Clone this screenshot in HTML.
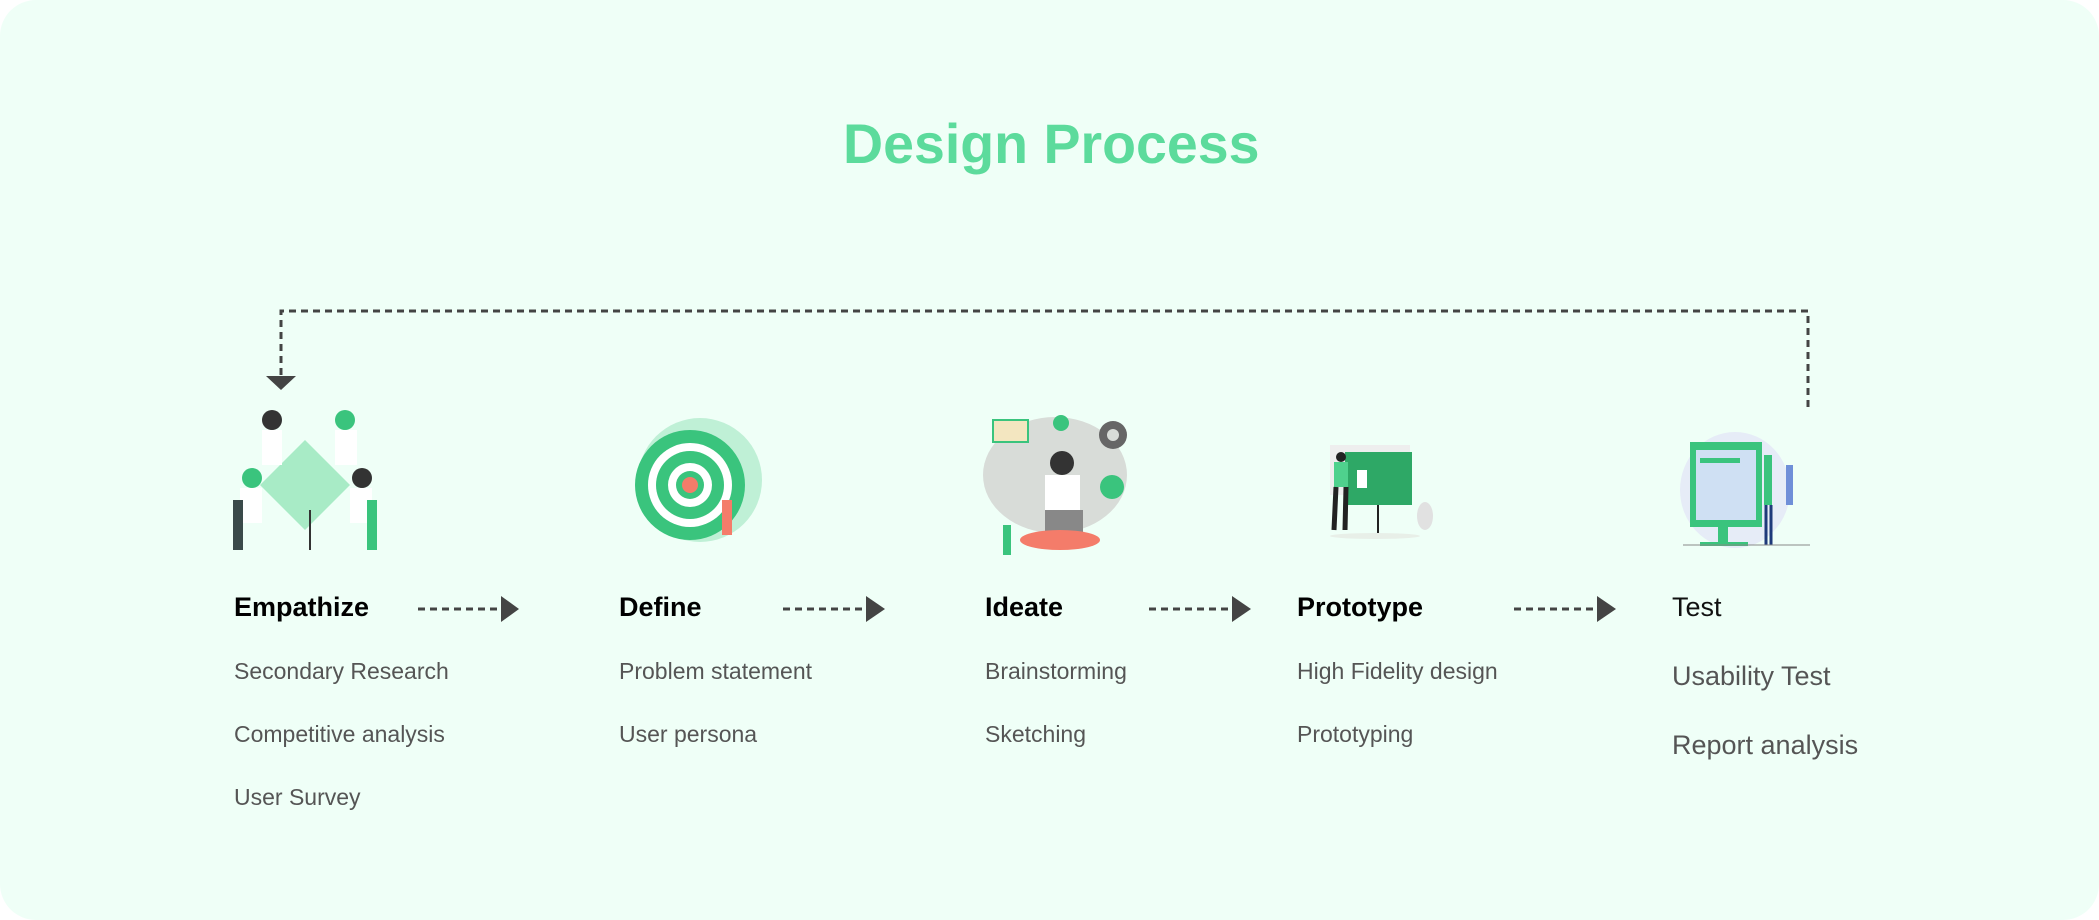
<!DOCTYPE html>
<html><head><style>
body{margin:0;width:2099px;height:920px;background:#fff;overflow:hidden;font-family:"Liberation Sans",sans-serif;}
#bg{position:absolute;left:0;top:0;width:2099px;height:920px;background:#effff7;border-radius:36px;}
.t{position:absolute;white-space:nowrap;}
.h{font-weight:bold;font-size:27px;color:#000;top:592px;}
.i{font-size:23px;color:#555;}
.ti{font-size:27px;color:#555;}
svg{position:absolute;left:0;top:0;}
</style></head><body>
<div id="bg"></div>
<div class="t" style="left:843px;top:112px;font-size:55.5px;font-weight:bold;color:#5cdb9c;">Design Process</div>
<svg width="2099" height="920">
<g stroke="#444" stroke-width="3" fill="none" stroke-dasharray="7 5">
<polyline points="281,375 281,311 1808,311 1808,408"/>
<line x1="418" y1="609" x2="500" y2="609"/>
<line x1="783" y1="609" x2="866" y2="609"/>
<line x1="1149" y1="609" x2="1232" y2="609"/>
<line x1="1514" y1="609" x2="1597" y2="609"/>
</g>
<g fill="#444">
<polygon points="266,376 296,376 281,390"/>
<polygon points="501,596 519,609 501,622"/>
<polygon points="866,596 885,609 866,622"/>
<polygon points="1232,596 1251,609 1232,622"/>
<polygon points="1597,596 1616,609 1597,622"/>
</g>
<g>
<polygon points="305,440 350,485 305,530 260,485" fill="#a8ebc6"/>
<circle cx="272" cy="420" r="10" fill="#333"/><rect x="262" y="430" width="20" height="35" fill="#fff"/>
<circle cx="345" cy="420" r="10" fill="#3ac47d"/><rect x="335" y="430" width="22" height="35" fill="#fff"/>
<circle cx="252" cy="478" r="10" fill="#3ac47d"/><rect x="240" y="488" width="22" height="35" fill="#fff"/><path d="M238 500 L238 550" stroke="#3a4a4a" stroke-width="10"/>
<circle cx="362" cy="478" r="10" fill="#333"/><rect x="350" y="488" width="22" height="35" fill="#fff"/><path d="M372 500 L372 550" stroke="#3ac47d" stroke-width="10"/>
<line x1="310" y1="510" x2="310" y2="550" stroke="#333" stroke-width="2"/>
</g>
<g>
<circle cx="700" cy="480" r="62" fill="#bff0d6"/>
<circle cx="690" cy="485" r="55" fill="#3ac47d"/><circle cx="690" cy="485" r="42" fill="#fff"/>
<circle cx="690" cy="485" r="34" fill="#3ac47d"/><circle cx="690" cy="485" r="22" fill="#fff"/>
<circle cx="690" cy="485" r="14" fill="#3ac47d"/><circle cx="690" cy="485" r="8" fill="#f47c6a"/>
<rect x="722" y="500" width="10" height="35" fill="#f47c6a"/>
</g>
<g>
<ellipse cx="1055" cy="475" rx="72" ry="58" fill="#d8dcd8"/>
<circle cx="1113" cy="435" r="14" fill="#666"/><circle cx="1113" cy="435" r="6" fill="#d8dcd8"/>
<rect x="993" y="420" width="35" height="22" fill="#f3e6c0" stroke="#3ac47d" stroke-width="2"/>
<circle cx="1061" cy="423" r="8" fill="#3ac47d"/>
<circle cx="1062" cy="463" r="12" fill="#333"/>
<rect x="1045" y="475" width="35" height="40" fill="#fff"/>
<rect x="1045" y="510" width="38" height="22" fill="#888"/>
<ellipse cx="1060" cy="540" rx="40" ry="10" fill="#f47c6a"/>
<circle cx="1112" cy="487" r="12" fill="#3ac47d"/>
<rect x="1003" y="525" width="8" height="30" fill="#3ac47d"/>
</g>
<g>
<rect x="1330" y="445" width="80" height="50" fill="#eee"/>
<rect x="1345" y="452" width="67" height="53" fill="#2ea866"/>
<rect x="1357" y="470" width="10" height="18" fill="#fff"/>
<line x1="1378" y1="505" x2="1378" y2="533" stroke="#222" stroke-width="2"/>
<circle cx="1341" cy="457" r="5" fill="#222"/>
<rect x="1334" y="462" width="14" height="25" fill="#4fd18d"/>
<path d="M1336 487 L1334 530 M1346 487 L1345 530" stroke="#222" stroke-width="5"/>
<ellipse cx="1375" cy="536" rx="45" ry="3" fill="#e8efe8"/>
<ellipse cx="1425" cy="516" rx="8" ry="14" fill="#e1e1e1"/>
</g>
<g>
<ellipse cx="1735" cy="490" rx="55" ry="58" fill="#e6ecf7"/>
<rect x="1690" y="442" width="72" height="85" fill="#3ac47d"/>
<rect x="1696" y="450" width="60" height="70" fill="#cfe0f3"/>
<rect x="1700" y="458" width="40" height="5" fill="#3ac47d"/>
<rect x="1718" y="527" width="10" height="17" fill="#3ac47d"/>
<rect x="1700" y="542" width="48" height="4" fill="#3ac47d"/>
<rect x="1764" y="455" width="8" height="50" fill="#3ac47d"/><path d="M1766 505 L1766 545 M1771 505 L1771 545" stroke="#1e3a7a" stroke-width="3"/>
<rect x="1786" y="465" width="7" height="40" fill="#6f8fd8"/>
<line x1="1683" y1="545" x2="1810" y2="545" stroke="#888" stroke-width="1"/>
</g>
</svg>
<div class="t h" style="left:234px">Empathize</div>
<div class="t h" style="left:619px">Define</div>
<div class="t h" style="left:985px">Ideate</div>
<div class="t h" style="left:1297px">Prototype</div>
<div class="t h" style="left:1672px;font-weight:normal;color:#111">Test</div>
<div class="t i" style="left:234px;top:658px">Secondary Research</div>
<div class="t i" style="left:234px;top:721px">Competitive analysis</div>
<div class="t i" style="left:234px;top:784px">User Survey</div>
<div class="t i" style="left:619px;top:658px">Problem statement</div>
<div class="t i" style="left:619px;top:721px">User persona</div>
<div class="t i" style="left:985px;top:658px">Brainstorming</div>
<div class="t i" style="left:985px;top:721px">Sketching</div>
<div class="t i" style="left:1297px;top:658px">High Fidelity design</div>
<div class="t i" style="left:1297px;top:721px">Prototyping</div>
<div class="t ti" style="left:1672px;top:661px">Usability Test</div>
<div class="t ti" style="left:1672px;top:730px">Report analysis</div>
</body></html>
